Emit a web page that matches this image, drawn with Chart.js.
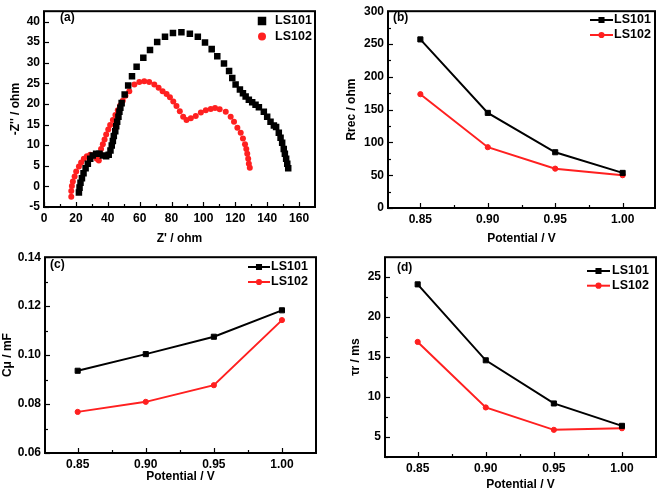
<!DOCTYPE html>
<html>
<head>
<meta charset="utf-8">
<script src="https://cdn.jsdelivr.net/npm/chart.js@4/dist/chart.umd.min.js"></script>
<style>
  body { margin: 0; background: #fff; }
  #wrap { position: relative; width: 661px; height: 492px; }
  canvas { position: absolute; }
</style>
</head>
<body>
<div id="wrap">
  <canvas id="chartA" width="330" height="246" style="left:0;top:0"></canvas>
  <canvas id="chartB" width="331" height="246" style="left:330px;top:0"></canvas>
  <canvas id="chartC" width="330" height="246" style="left:0;top:246px"></canvas>
  <canvas id="chartD" width="331" height="246" style="left:330px;top:246px"></canvas>
</div>
<script>
// (a) Nyquist plots, pairs of [Z', -Z'']
const nyqLS101 = [[21.9,-1.5],[22.3,-0.3],[22.9,0.9],[23.8,2.0],[24.8,3.2],[26.1,4.4],[27.5,5.5],[29.0,6.7],
  [30.6,7.5],[32.7,7.9],[34.8,7.9],[36.9,7.5],[39.0,7.3],[40.6,7.7],[41.7,8.7],[42.5,9.9],[43.2,11.0],
  [43.8,12.2],[44.7,13.4],[45.3,14.6],[45.9,15.7],[46.7,16.9],[47.3,18.1],[47.9,19.1],[48.7,20.2],
  [50.6,22.3],[52.8,24.5],[55.2,26.7],[58.1,29.0],[62.3,31.2],[66.5,33.1],[71.0,35.0],[75.9,36.3],
  [80.9,37.2],[86.2,37.4],[91.5,37.0],[96.5,36.3],[101.0,34.9],[105.2,33.3],[108.7,31.6],[112.9,29.8],
  [116.1,28.0],[118.1,26.3],[120.2,24.7],[122.9,23.5],[124.8,22.6],[126.5,21.8],[128.5,21.0],[130.6,20.4],
  [132.7,19.8],[134.8,19.2],[137.9,18.1],[140.0,16.9],[142.1,15.7],[144.2,14.8],[145.6,14.4],[147.3,13.0],
  [148.4,11.8],[149.4,10.6],[150.4,9.1],[151.1,7.9],[151.9,6.7],[152.6,5.5],[153.2,4.4]];
const nyqLS102 = [[17.1,-2.5],[17.1,-1.1],[17.5,0.1],[18.1,1.2],[19.2,2.4],[20.2,3.6],[21.9,4.8],[23.3,5.8],
  [25.0,6.7],[26.9,7.3],[29.0,7.7],[31.0,7.5],[33.1,6.7],[34.4,6.3],[35.2,7.9],[35.8,9.1],[36.9,10.2],
  [38.0,11.4],[39.0,12.6],[40.3,13.8],[41.5,14.9],[43.2,16.1],[44.8,17.3],[46.3,18.5],[47.8,19.6],
  [49.4,20.8],[51.1,22.0],[53.5,23.1],[56.7,24.7],[59.8,25.3],[62.9,25.5],[66.0,25.3],[69.2,24.7],
  [71.9,23.9],[74.4,23.1],[76.9,22.4],[79.0,21.6],[81.1,20.6],[83.1,19.5],[85.2,18.2],[87.3,16.9],
  [89.4,16.1],[92.1,16.5],[95.2,17.1],[98.4,17.9],[101.5,18.5],[104.6,18.8],[107.3,19.0],[110.2,18.7],
  [114.0,18.1],[117.1,16.9],[119.2,15.7],[121.3,14.2],[123.4,13.0],[124.8,11.6],[126.1,10.2],[126.9,9.1],
  [127.5,7.9],[128.1,6.7],[128.5,5.5],[129.1,4.5]];

// (b)-(d) vs potential
const potential = [0.85, 0.90, 0.95, 1.00];
const rrecLS101 = [257, 145, 85, 53.5];
const rrecLS102 = [173.5, 92.7, 60, 50];
const cmuLS101 = [0.0936, 0.1004, 0.1075, 0.1183];
const cmuLS102 = [0.0768, 0.0809, 0.0877, 0.1143];
const tauLS101 = [24.1, 14.6, 9.2, 6.4];
const tauLS102 = [16.9, 8.7, 5.9, 6.1];

// tick values
const zRealTicks = [0, 20, 40, 60, 80, 100, 120, 140, 160];
const zRealMinor = [10, 30, 50, 70, 90, 110, 130, 150];
const zImagTicks = [-5, 0, 5, 10, 15, 20, 25, 30, 35, 40];
const potTicks = [0.85, 0.90, 0.95, 1.00];
const potMinor = [0.875, 0.925, 0.975];
const rrecTicks = [0, 50, 100, 150, 200, 250, 300];
const rrecMinor = [25, 75, 125, 175, 225, 275];
const cmuTicks = [0.06, 0.08, 0.10, 0.12, 0.14];
const cmuMinor = [0.07, 0.09, 0.11, 0.13];
const tauTicks = [5, 10, 15, 20, 25];
const tauMinor = [2.5, 7.5, 12.5, 17.5, 22.5];

Chart.defaults.font.family = '"Liberation Sans", Arial, sans-serif';
Chart.defaults.font.size = 12;
Chart.defaults.font.weight = 'bold';
Chart.defaults.color = '#000';

const pairs = arr => arr.map(p => ({ x: p[0], y: p[1] }));
const zip = (xs, ys) => xs.map((x, i) => ({ x, y: ys[i] }));

// inward ticks, frame box, panel tag and legend
const framePlugin = {
  id: 'frame',
  afterDraw(chart, args, o) {
    const { ctx, chartArea: a, scales: { x, y } } = chart;
    ctx.save();
    ctx.strokeStyle = '#000';
    ctx.lineWidth = 1.2;
    const tick = (vals, len, horiz) => vals.forEach(v => {
      ctx.beginPath();
      if (horiz) {
        const px = Math.round(x.getPixelForValue(v)) + 0.5;
        ctx.moveTo(px, a.bottom); ctx.lineTo(px, a.bottom - len);
      } else {
        const py = Math.round(y.getPixelForValue(v)) + 0.5;
        ctx.moveTo(a.left, py); ctx.lineTo(a.left + len, py);
      }
      ctx.stroke();
    });
    tick(o.xMajor, 5, true);
    tick(o.xMinor || [], 3, true);
    tick(o.yMajor, 5, false);
    tick(o.yMinor || [], 3, false);
    ctx.lineWidth = 2;
    ctx.strokeRect(a.left, a.top, a.right - a.left, a.bottom - a.top);

    ctx.fillStyle = '#000';
    ctx.font = 'bold 12px "Liberation Sans", Arial, sans-serif';
    ctx.textBaseline = 'middle';
    ctx.textAlign = 'left';
    ctx.fillText(o.tag, o.tagX, o.tagY);

    ctx.font = 'bold 12.5px "Liberation Sans", Arial, sans-serif';
    chart.data.datasets.forEach((ds, i) => {
      const ly = o.legY + i * o.legGap;
      ctx.strokeStyle = ds.borderColor;
      ctx.fillStyle = ds.backgroundColor;
      let mx = o.legX;
      let r = ds.pointRadius;
      if (o.legLine) {
        ctx.lineWidth = 2;
        ctx.beginPath();
        ctx.moveTo(o.legX, ly); ctx.lineTo(o.legX2, ly);
        ctx.stroke();
        mx = (o.legX + o.legX2) / 2;
        r = r * 0.8;
      }
      Chart.helpers.drawPoint(ctx, { pointStyle: ds.pointStyle, radius: r, rotation: 0, borderWidth: 1 }, mx, ly);
      ctx.fillStyle = '#000';
      ctx.fillText(ds.label, o.textX, ly);
    });
    ctx.restore();
  }
};

function axis(min, max, tickVals, fmt, size, title, titlePad) {
  return {
    type: 'linear', min, max,
    grid: { display: false, drawTicks: false },
    border: { display: false },
    afterBuildTicks: s => { s.ticks = tickVals.map(v => ({ value: v })); },
    afterFit: s => { if (s.isHorizontal()) s.height = size; else s.width = size; },
    ticks: { padding: 4, callback: fmt },
    title: { display: true, text: title, padding: titlePad, font: { size: 12, weight: 'bold' } }
  };
}

function makeChart(id, datasets, cfg) {
  new Chart(document.getElementById(id), {
    type: 'scatter',
    data: { datasets },
    options: {
      responsive: false,
      animation: false,
      layout: { padding: cfg.pad },
      plugins: { legend: { display: false }, tooltip: { enabled: false }, frame: cfg.frame },
      scales: { x: cfg.x, y: cfg.y }
    },
    plugins: [framePlugin]
  });
}

const fix2 = v => v.toFixed(2);
const plain = v => String(v);

function lineSet(label, color, style, radius, data) {
  return { label, data, showLine: true, borderColor: color, backgroundColor: color,
    borderWidth: 2, pointStyle: style, pointRadius: radius, pointBorderWidth: 1, tension: 0 };
}

// (a)
makeChart('chartA', [
  { label: 'LS101', data: pairs(nyqLS101), borderColor: '#000', backgroundColor: '#000',
    pointStyle: 'rect', pointRadius: 4.6, pointBorderWidth: 0 },
  { label: 'LS102', data: pairs(nyqLS102), borderColor: '#ff2020', backgroundColor: '#ff2020',
    pointStyle: 'circle', pointRadius: 3, pointBorderWidth: 0 }
], {
  pad: { left: 0, right: 15, top: 4, bottom: 0 },
  x: axis(0, 170, zRealTicks, plain, 39, "Z' / ohm", { top: 0, bottom: 0 }),
  y: axis(-5, 42.5, zImagTicks, plain, 44, "-Z'' / ohm", { top: 8, bottom: 0 }),
  frame: { xMajor: zRealTicks, xMinor: zRealMinor, yMajor: zImagTicks, tag: '(a)', tagX: 60, tagY: 18,
    legX: 262, legY: 21, legGap: 15.5, textX: 275, legLine: false }
});

// (b)
makeChart('chartB', [
  lineSet('LS101', '#000', 'rect', 3.6, zip(potential, rrecLS101)),
  lineSet('LS102', '#ff2020', 'circle', 2.6, zip(potential, rrecLS102))
], {
  pad: { left: 0, right: 6, top: 6, bottom: 0 },
  x: axis(0.826, 1.024, potTicks, fix2, 38, 'Potential / V', { top: 0, bottom: 0 }),
  y: axis(0, 300, rrecTicks, plain, 58, 'Rrec / ohm', { top: 14, bottom: 0 }),
  frame: { xMajor: potTicks, xMinor: potMinor, yMajor: rrecTicks, yMinor: rrecMinor, tag: '(b)', tagX: 63, tagY: 18,
    legX: 260, legX2: 283, legY: 20, legGap: 15, textX: 284, legLine: true }
});

// (c)
makeChart('chartC', [
  lineSet('LS101', '#000', 'rect', 3.6, zip(potential, cmuLS101)),
  lineSet('LS102', '#ff2020', 'circle', 2.6, zip(potential, cmuLS102))
], {
  pad: { left: 0, right: 14, top: 7, bottom: 0 },
  x: axis(0.826, 1.025, potTicks, fix2, 39, 'Potential / V', { top: 0, bottom: 8 }),
  y: axis(0.06, 0.14, cmuTicks, fix2, 45, 'Cμ / mF', { top: 0, bottom: 0 }),
  frame: { xMajor: potTicks, xMinor: potMinor, yMajor: cmuTicks, yMinor: cmuMinor, tag: '(c)', tagX: 50, tagY: 19,
    legX: 248, legX2: 270, legY: 21, legGap: 15, textX: 271, legLine: true }
});

// (d)
makeChart('chartD', [
  lineSet('LS101', '#000', 'rect', 3.6, zip(potential, tauLS101)),
  lineSet('LS102', '#ff2020', 'circle', 2.6, zip(potential, tauLS102))
], {
  pad: { left: 0, right: 5, top: 8, bottom: 0 },
  x: axis(0.826, 1.025, potTicks, fix2, 35, 'Potential / V', { top: 0, bottom: 0 }),
  y: axis(2.5, 27.5, tauTicks, plain, 55, 'τr / ms', { top: 18, bottom: 0 }),
  frame: { xMajor: potTicks, xMinor: potMinor, yMajor: tauTicks, yMinor: tauMinor, tag: '(d)', tagX: 67, tagY: 22,
    legX: 257, legX2: 280, legY: 25, legGap: 14.7, textX: 282, legLine: true }
});
</script>
</body>
</html>
